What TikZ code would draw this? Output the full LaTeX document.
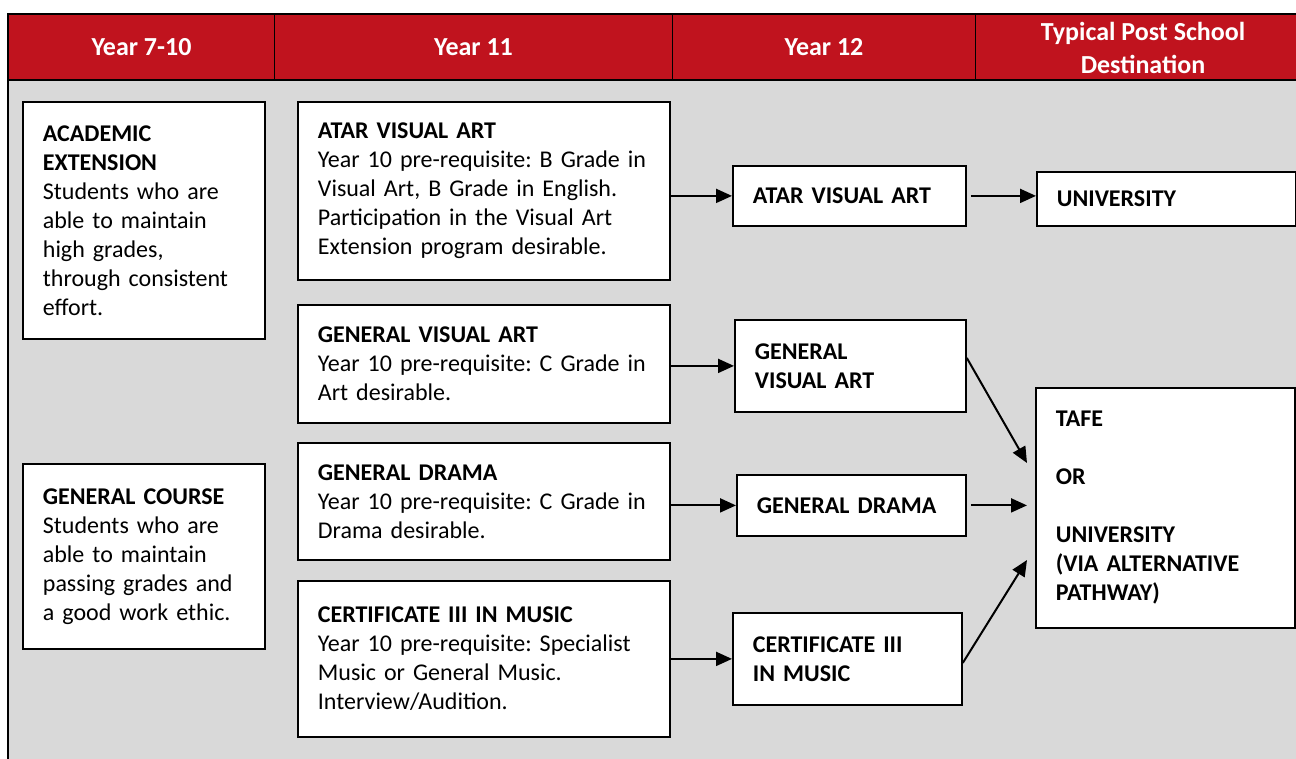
\documentclass[tikz,border=0pt]{standalone}
\usepackage{fontspec}
\setmainfont{Carlito}
\usetikzlibrary{arrows.meta}
\definecolor{pathred}{RGB}{192,19,30}
\definecolor{cellgray}{RGB}{217,217,217}
\newcommand{\bodysize}{\fontsize{24}{29}\selectfont\frenchspacing}
\newcommand{\headsize}{\fontsize{26}{33}\selectfont}

\begin{document}
\begin{tikzpicture}[x=1pt,y=-1pt,
  every node/.style={font=\bodysize},
  head/.style={draw=black,line width=1pt,fill=pathred,text=white,font=\headsize\bfseries,
               anchor=north west,minimum height=66pt,inner sep=0pt,align=center},
  box/.style={draw=black,line width=1.8pt,fill=white,anchor=north west,
              align=left,inner xsep=20pt,inner ysep=0pt},
  arr/.style={line width=2pt,-{Triangle[length=16pt,width=14pt]}}
]
  \useasboundingbox (0,0) rectangle (1296,758);
  \clip (0,0) rectangle (1296,758);
  \fill[white] (0,0) rectangle (1296,758);
  \fill[cellgray] (8,80) rectangle (1310,770);

  % header row
  \node[head,minimum width=266pt] (hjunior) at (8,14) {Year 7-10};
  \node[head,minimum width=398pt] (hyear11) at (274,14) {Year 11};
  \node[head,minimum width=303pt] (hyear12) at (672,14) {Year 12};
  \node[head,minimum width=335pt] (hdest) at (975,14) {Typical Post School\\Destination};
  \draw[line width=2pt] (8,14) rectangle (1310,770);
  \draw[line width=2pt] (8,80) -- (1310,80);

  % Year 7-10
  \node[box,text width=202pt,minimum height=237pt] (acad) at (22,101)
    {\textbf{ACADEMIC}\\\textbf{EXTENSION}\\Students who are\\able to maintain\\high grades,\\through consistent\\effort.};
  \node[box,text width=202pt,minimum height=185pt] (gencourse) at (22,463)
    {\textbf{GENERAL COURSE}\\Students who are\\able to maintain\\passing grades and\\a good work ethic.};

  % Year 11
  \node[box,text width=332pt,minimum height=178pt] (atareleven) at (297,101)
    {\textbf{ATAR VISUAL ART}\\Year 10 pre-requisite: B Grade in\\Visual Art, B Grade in English.\\Participation in the Visual Art\\Extension program desirable.};
  \node[box,text width=332pt,minimum height=118pt] (gvaeleven) at (297,304)
    {\textbf{GENERAL VISUAL ART}\\Year 10 pre-requisite: C Grade in\\Art desirable.};
  \node[box,text width=332pt,minimum height=117pt] (dramaeleven) at (297,442)
    {\textbf{GENERAL DRAMA}\\Year 10 pre-requisite: C Grade in\\Drama desirable.};
  \node[box,text width=332pt,minimum height=156pt] (certeleven) at (297,580)
    {\textbf{CERTIFICATE III IN MUSIC}\\Year 10 pre-requisite: Specialist\\Music or General Music.\\Interview/Audition.};

  % Year 12
  \node[box,font=\bodysize\bfseries,text width=193pt,minimum height=60pt] (atartwelve) at (732,165) {ATAR VISUAL ART};
  \node[box,font=\bodysize\bfseries,text width=191pt,minimum height=92pt] (gvatwelve) at (734,319) {GENERAL\\VISUAL ART};
  \node[box,font=\bodysize\bfseries,text width=189pt,minimum height=61pt] (dramatwelve) at (736,474) {GENERAL DRAMA};
  \node[box,font=\bodysize\bfseries,text width=189pt,minimum height=92pt] (certtwelve) at (732,612) {CERTIFICATE III\\IN MUSIC};

  % destinations
  \node[box,font=\bodysize\bfseries,text width=219pt,minimum height=54pt] (uni) at (1036,171) {UNIVERSITY};
  \node[box,font=\bodysize\bfseries,text width=219pt,minimum height=240pt] (tafe) at (1035,387)
    {TAFE\\[29pt]OR\\[29pt]UNIVERSITY\\(VIA ALTERNATIVE\\PATHWAY)};
  \coordinate (tafetop) at (1027,463);
  \coordinate (tafebot) at (1027,560);

  % connectors
  \draw[arr] (atareleven.east |- atartwelve.west) -- (atartwelve.west);
  \draw[arr] (gvaeleven.east |- gvatwelve.west) -- (gvatwelve.west);
  \draw[arr] (dramaeleven.east |- dramatwelve.west) -- (dramatwelve.west);
  \draw[arr] (certeleven.east |- certtwelve.west) -- (certtwelve.west);
  \draw[arr,shorten <=4pt] (atartwelve.east) -- (atartwelve.east -| uni.west);
  \draw[arr,shorten <=4pt,shorten >=8pt] (dramatwelve.east) -- (dramatwelve.east -| tafe.west);
  \draw[arr] ([yshift=8pt]gvatwelve.east) -- (tafetop);
  \draw[arr] ([yshift=-4pt]certtwelve.east) -- (tafebot);
\end{tikzpicture}
\end{document}
